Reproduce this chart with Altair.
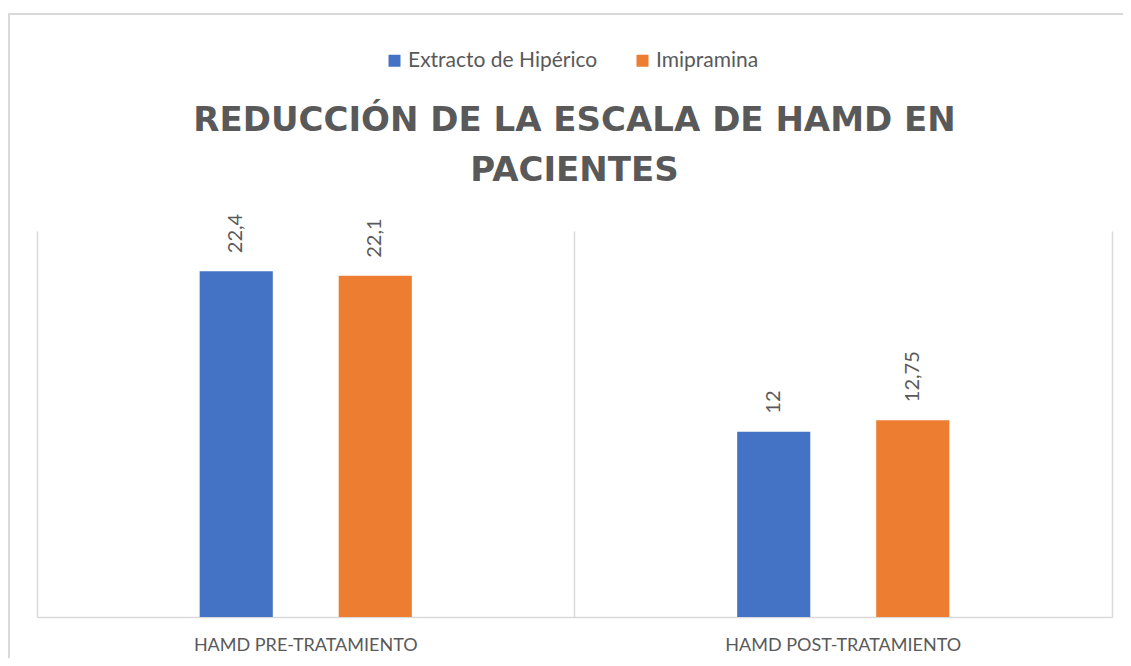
import altair as alt
import pandas as pd

categories = ["HAMD PRE-TRATAMIENTO", "HAMD POST-TRATAMIENTO"]
series = ["Extracto de Hipérico", "Imipramina"]
hiperico = [22.4, 12]
imipramina = [22.1, 12.75]
colors = ["#4472C4", "#ED7D31"]

rows = []
for s, vals in zip(series, [hiperico, imipramina]):
    for c, v in zip(categories, vals):
        rows.append({"cat": c, "serie": s, "valor": v,
                     "etiqueta": f"{v:g}".replace(".", ",")})
df = pd.DataFrame(rows)

W, H = 1075, 386
GREY = "#595959"
LINE = "#D9D9D9"
FONT = "Lato"

x = alt.X("cat:N", sort=categories, title=None,
          scale=alt.Scale(paddingInner=0, paddingOuter=0),
          axis=alt.Axis(labelAngle=0, labelFont=FONT, labelFontSize=18,
                        labelColor=GREY, labelPadding=19, ticks=False,
                        labelLimit=0,
                        domainColor=LINE, domainWidth=1.5,
                        grid=True, gridColor=LINE, gridWidth=1.5,
                        bandPosition=0))
# two empty slots at the sides of each group keep the bars centred
offset_domain = ["_izq"] + series + ["_der"]
xo = alt.XOffset("serie:N",
                 scale=alt.Scale(domain=offset_domain, paddingInner=0.474,
                                 paddingOuter=0.17))
y = alt.Y("valor:Q", scale=alt.Scale(domain=[0, 25]), title=None,
          axis=alt.Axis(orient="right", labels=False, ticks=False, grid=False,
                        domainColor=LINE, domainWidth=1.5))

base = alt.Chart(df)

bars = base.mark_bar().encode(
    x=x, xOffset=xo, y=y,
    color=alt.Color("serie:N", sort=series,
                    scale=alt.Scale(domain=series, range=colors),
                    legend=alt.Legend(title=None, orient="none", direction="horizontal",
                                      legendX=347, legendY=-181, padding=0,
                                      symbolType="square", symbolSize=144,
                                      symbolStrokeWidth=0, labelFont=FONT,
                                      labelFontSize=21, labelColor=GREY,
                                      labelLimit=0,
                                      labelOffset=3, columnPadding=34)),
)

labels = base.mark_text(angle=270, align="left", baseline="middle", dx=18,
                        font=FONT, fontSize=20, color=GREY).encode(
    x=x, xOffset=xo, y=y, text="etiqueta:N")

border = alt.Chart(df).mark_rect(filled=False, stroke=LINE, strokeWidth=1.5).encode(
    x=alt.value(-28), x2=alt.value(1300), y=alt.value(-217), y2=alt.value(800))

chart = alt.layer(border, bars, labels).properties(
    width=W, height=H,
    autosize=alt.AutoSizeParams(type="none"),
    padding={"left": 29, "top": 223, "right": 11, "bottom": 41},
    title=alt.TitleParams(["REDUCCIÓN DE LA ESCALA DE HAMD EN", "PACIENTES"],
                          font="DejaVu Sans", fontSize=34, fontWeight="bold", color=GREY,
                          anchor="middle", offset=0, dy=175, lineHeight=50),
).configure_view(stroke=None)

chart.save("out.html", embed_options={"renderer": "svg", "actions": False})
